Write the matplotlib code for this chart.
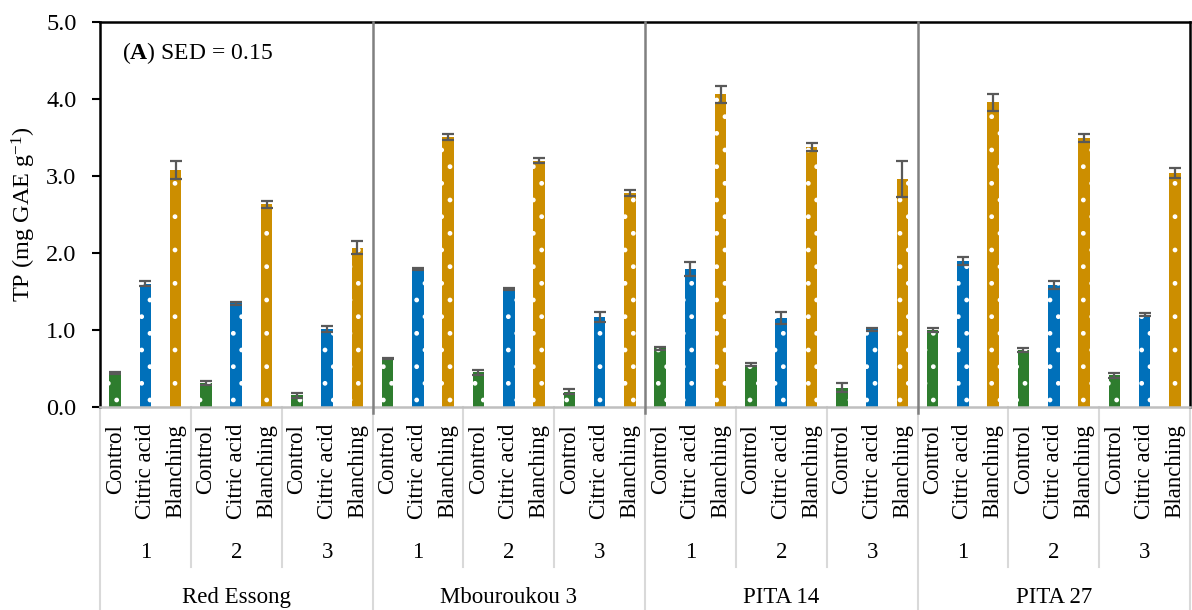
import matplotlib
matplotlib.use('Agg')
import matplotlib.pyplot as plt
import numpy as np

plt.rcParams['font.family'] = ['Liberation Serif', 'DejaVu Serif']
plt.rcParams['mathtext.fontset'] = 'custom'
plt.rcParams['mathtext.rm'] = 'Liberation Serif'
plt.rcParams['mathtext.bf'] = 'Liberation Serif:bold'
plt.rcParams['mathtext.it'] = 'Liberation Serif:italic'
plt.rcParams['hatch.linewidth'] = 1.0

varieties = ['Red Essong', 'Mbouroukou 3', 'PITA 14', 'PITA 27']
levels = ['1', '2', '3']
treatments = ['Control', 'Citric acid', 'Blanching']

# one value per (variety, level), in order
control_tp = [0.44, 0.31, 0.15, 0.63, 0.45, 0.20, 0.76, 0.55, 0.25, 1.00, 0.74, 0.41]
control_err = [0.01, 0.03, 0.03, 0.01, 0.03, 0.03, 0.02, 0.02, 0.06, 0.03, 0.03, 0.03]
citric_tp = [1.60, 1.35, 1.01, 1.79, 1.53, 1.17, 1.79, 1.16, 1.01, 1.90, 1.58, 1.20]
citric_err = [0.03, 0.02, 0.04, 0.01, 0.01, 0.06, 0.09, 0.08, 0.02, 0.05, 0.05, 0.02]
blanch_tp = [3.08, 2.63, 2.07, 3.51, 3.20, 2.78, 4.06, 3.38, 2.96, 3.96, 3.49, 3.04]
blanch_err = [0.12, 0.04, 0.085, 0.04, 0.03, 0.04, 0.11, 0.05, 0.23, 0.11, 0.05, 0.07]

series = [(control_tp, control_err, '#2E7D2E'),
          (citric_tp, citric_err, '#0070BA'),
          (blanch_tp, blanch_err, '#CC8E00')]

n_groups = len(varieties) * len(levels)
nt = len(treatments)

fig = plt.figure(figsize=(11.92, 6.10), dpi=100)
ax = fig.add_axes([100 / 1192, (610 - 407) / 610, 1090 / 1192, 385 / 610])

for t, (vals, errs, col) in enumerate(series):
    x = np.arange(n_groups) * nt + t
    ax.bar(x, vals, width=0.38, color=col, edgecolor='white', linewidth=0,
           hatch='.', zorder=2)
    ax.errorbar(x, vals, yerr=errs, fmt='none', ecolor='#595959',
                elinewidth=1.6, capsize=4.5, capthick=1.6, zorder=3)

n_bars = n_groups * nt
ax.set_xlim(-0.5, n_bars - 0.5)
ax.set_ylim(0, 5)
ax.set_yticks(np.arange(0, 5.01, 1.0))
ax.set_yticklabels(['%.1f' % v for v in np.arange(0, 5.01, 1.0)], fontsize=17.5)
ax.tick_params(axis='y', direction='out', length=6, width=1.5, pad=11, color='black')
ax.set_xticks([])

for side in ['left', 'top', 'right']:
    ax.spines[side].set_color('black')
    ax.spines[side].set_linewidth(1.8)
ax.spines['bottom'].set_color('#BFBFBF')
ax.spines['bottom'].set_linewidth(1.8)

ax.set_ylabel('TP (mg GAE g$^{-1}$)', fontsize=17.5, labelpad=6)

ax.text(0.0202, 0.92, r'($\mathbf{A}$) SED = 0.15', transform=ax.transAxes,
        fontsize=17, va='center', ha='left')

# variety separators inside the plot
trans = ax.get_xaxis_transform()
per_var = len(levels) * nt
for v in range(1, len(varieties)):
    xs = v * per_var - 0.5
    ax.plot([xs, xs], [-0.016, 1], transform=trans, color='#808080', lw=1.8,
            clip_on=False, zorder=4)

# multi-level category axis
light = '#D9D9D9'
for i in range(n_bars):
    ax.text(i, -0.044, treatments[i % nt], transform=trans, rotation=90,
            ha='center', va='top', fontsize=16.5, clip_on=False)
for g in range(n_groups):
    xc = g * nt + 1
    ax.text(xc, -0.377, levels[g % len(levels)], transform=trans,
            ha='center', va='center', fontsize=16.5)
    xs = g * nt - 0.5
    if g % len(levels) != 0:
        ax.plot([xs, xs], [0, -0.416], transform=trans, color=light, lw=1.5,
                clip_on=False)
for v in range(len(varieties) + 1):
    xs = v * per_var - 0.5
    ax.plot([xs, xs], [0, -0.53], transform=trans, color=light, lw=1.5,
            clip_on=False)
    if v < len(varieties):
        ax.text(xs + per_var / 2, -0.496, varieties[v], transform=trans,
                ha='center', va='center', fontsize=16.5)

fig.savefig('out.png', dpi=100)
